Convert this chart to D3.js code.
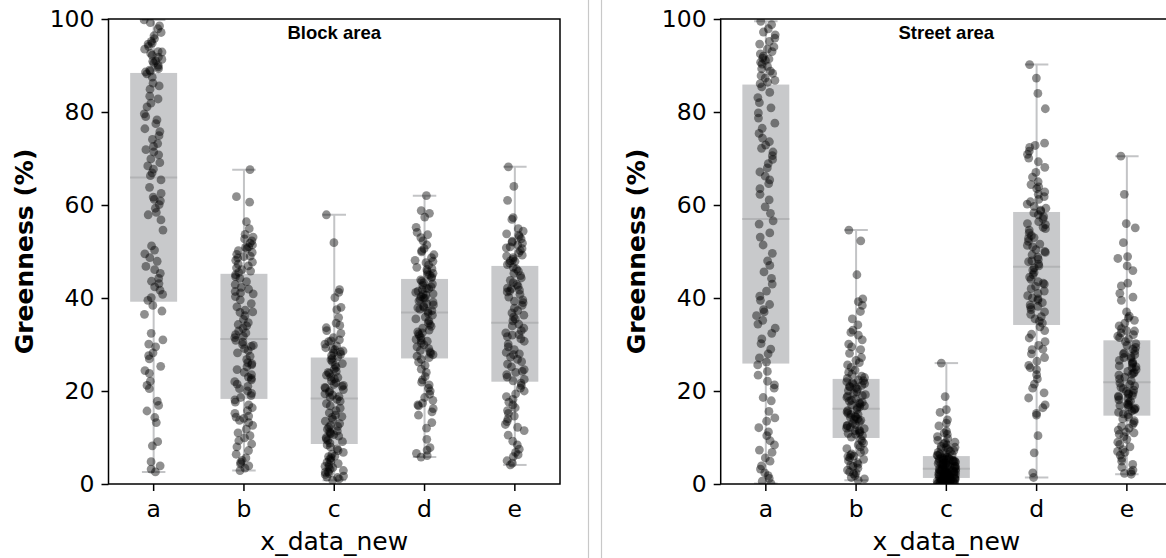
<!DOCTYPE html>
<html>
<head>
<meta charset="utf-8">
<script src="https://cdn.jsdelivr.net/npm/d3@7"></script>
<style>
  body { margin: 0; background: #fff; }
  svg { display: block; }
</style>
</head>
<body>
<svg id="chart" width="1166" height="558"></svg>
<script>
// Categories
const categories = ['a', 'b', 'c', 'd', 'e'];
const yTicks = [0, 20, 40, 60, 80, 100];

// Block area - box stats
const blockLo  = [2.6, 2.9, 0.8, 5.8, 4.1];
const blockQ1  = [39.2, 18.3, 8.6, 27.0, 22.0];
const blockMed = [65.9, 31.2, 18.4, 36.9, 34.7];
const blockQ3  = [88.4, 45.2, 27.2, 44.1, 46.9];
const blockHi  = [99.8, 67.6, 57.9, 62.0, 68.2];

// Street area - box stats
const streetLo  = [0.1, 0.8, 0.0, 1.4, 2.1];
const streetQ1  = [25.9, 9.9, 1.3, 34.2, 14.7];
const streetMed = [57.0, 16.2, 3.3, 46.7, 21.9];
const streetQ3  = [85.9, 22.6, 6.0, 58.5, 30.9];
const streetHi  = [99.5, 54.6, 26.0, 90.2, 70.5];

// Block area - points
const blockA = [99.8, 99.2, 98.5, 97.9, 97.1, 96.4, 95.8, 95.2, 94.6, 94.1, 93.5, 93.0, 92.6, 92.2, 91.8, 91.3, 90.9, 90.5, 90.1, 89.7, 89.3, 89.0, 88.8, 88.6, 92.9, 94.8, 91.0,
  88.2, 87.5, 86.2, 85.6, 84.9, 83.4, 82.8, 81.9, 81.1, 79.6, 79.0, 78.3, 77.5, 76.4, 75.8, 74.9, 74.1, 73.2, 72.6, 71.4, 70.8, 69.9, 69.1, 68.4, 67.7, 66.9, 66.3, 71.9,
  65.4, 63.8, 62.5, 61.7, 61.2, 60.9, 60.1, 59.3, 58.4, 57.9, 56.8, 54.6, 51.2, 50.3, 49.5, 48.7, 47.9, 46.8, 46.1, 45.3, 44.2, 43.6, 43.1, 42.4, 41.7, 40.8, 40.1, 39.5,
  38.4, 37.2, 36.5, 32.4, 31.0, 30.1, 29.5, 28.2, 27.6, 26.9, 25.3, 24.4, 23.8, 22.1, 21.2, 20.5, 17.8, 16.9, 15.7, 14.3, 13.2, 9.1, 8.2, 4.8, 3.9, 3.2, 2.6];
const blockB = [67.6, 61.8, 60.6, 56.4, 54.9, 53.7, 53.1, 52.3, 51.8, 51.4, 51.0, 50.6, 50.2, 49.8, 49.4, 49.0, 48.6, 48.1, 47.7, 47.3, 46.9, 46.5, 46.1, 45.8, 45.5, 52.7, 50.9, 48.9,
  45.0, 44.6, 44.2, 43.5, 42.9, 42.3, 41.9, 41.4, 40.9, 40.3, 39.6, 38.8, 38.1, 37.4, 36.9, 36.2, 35.4, 34.7, 34.0, 33.5, 32.9, 32.5, 32.1, 31.8, 31.5, 41.1, 37.0, 34.3,
  30.9, 30.5, 30.0, 29.6, 29.1, 28.7, 28.2, 27.5, 26.8, 26.1, 25.6, 25.2, 24.6, 24.0, 23.5, 23.0, 22.4, 22.0, 21.5, 21.0, 20.5, 20.0, 19.5, 19.0, 18.6, 25.9, 22.7, 29.8,
  18.1, 17.6, 17.0, 16.4, 15.8, 15.2, 14.6, 14.1, 13.7, 13.2, 12.6, 11.8, 11.0, 10.4, 9.9, 9.3, 8.6, 8.0, 7.2, 6.4, 5.6, 5.1, 4.7, 4.3, 3.9, 3.4, 2.9, 14.4];
const blockC = [57.9, 51.9, 41.8, 41.2, 40.1, 38.0, 37.5, 35.8, 34.6, 34.1, 33.6, 32.4, 31.5, 31.0, 30.6, 30.1, 29.7, 29.3, 28.9, 28.6, 28.2, 27.9, 27.6, 27.4, 29.0, 30.8, 33.0, 28.4,
  27.0, 26.7, 26.3, 25.9, 25.5, 25.1, 24.7, 24.2, 23.8, 23.4, 23.0, 22.6, 22.2, 21.8, 21.4, 21.0, 20.6, 20.3, 20.0, 19.7, 19.4, 19.1, 18.8, 18.6, 24.0, 22.9, 21.2, 20.8,
  18.2, 17.8, 17.3, 16.8, 16.3, 15.8, 15.3, 14.8, 14.3, 13.9, 13.5, 13.0, 12.6, 12.2, 11.8, 11.4, 11.0, 10.6, 10.3, 10.0, 9.7, 9.4, 9.1, 8.8, 14.5, 12.4, 11.2, 10.8,
  8.4, 8.0, 7.6, 7.2, 6.8, 6.4, 6.0, 5.6, 5.3, 5.0, 4.7, 4.4, 4.1, 3.8, 3.5, 3.2, 2.9, 2.6, 2.3, 2.0, 1.7, 1.4, 1.1, 0.8, 5.9, 3.6, 2.5, 1.5];
const blockD = [62.0, 58.8, 58.2, 57.4, 55.2, 54.1, 53.6, 53.0, 52.3, 51.4, 50.6, 49.9, 49.3, 48.7, 48.1, 47.6, 47.1, 46.6, 46.1, 45.7, 45.3, 44.9, 44.6, 44.3, 50.2, 47.9, 46.3, 45.0,
  43.9, 43.6, 43.3, 43.0, 42.7, 42.4, 42.1, 41.8, 41.5, 41.2, 40.9, 40.6, 40.3, 40.0, 39.7, 39.4, 39.1, 38.8, 38.5, 38.2, 37.9, 37.6, 37.3, 37.1, 42.0, 40.8, 39.9, 38.0,
  36.7, 36.3, 35.9, 35.5, 35.1, 34.7, 34.3, 33.9, 33.5, 33.1, 32.7, 32.3, 31.9, 31.5, 31.1, 30.7, 30.3, 29.9, 29.5, 29.1, 28.7, 28.4, 28.1, 27.8, 27.5, 27.2, 30.9, 32.5,
  26.8, 26.2, 25.5, 24.7, 24.0, 23.1, 22.4, 21.9, 21.3, 20.6, 20.0, 19.3, 18.6, 18.0, 17.4, 16.8, 16.2, 15.5, 14.8, 13.2, 12.0, 9.6, 7.8, 7.3, 6.6, 6.1, 5.8, 17.0];
const blockE = [68.2, 64.0, 61.0, 57.3, 56.9, 54.9, 54.4, 53.8, 53.2, 52.7, 52.2, 51.8, 51.4, 51.0, 50.6, 50.2, 49.7, 49.2, 48.7, 48.3, 47.9, 47.5, 47.2, 52.0, 50.8, 49.0, 48.0, 53.5,
  46.6, 46.2, 45.8, 45.3, 44.8, 44.3, 43.8, 43.3, 42.9, 42.5, 42.1, 41.7, 41.3, 40.8, 40.2, 39.6, 39.0, 38.4, 37.8, 37.3, 36.8, 36.3, 35.9, 35.5, 35.1, 42.0, 41.5, 39.3,
  34.4, 34.0, 33.5, 33.0, 32.5, 32.1, 31.7, 31.2, 30.7, 30.1, 29.5, 28.9, 28.3, 27.8, 27.3, 26.8, 26.3, 25.8, 25.2, 24.6, 24.0, 23.5, 23.0, 22.5, 22.2, 32.0, 28.0, 24.2,
  21.7, 21.2, 20.6, 20.0, 19.4, 18.8, 18.2, 17.6, 17.0, 16.4, 15.8, 15.2, 14.6, 14.0, 13.4, 12.8, 12.2, 11.5, 10.5, 9.2, 8.4, 7.5, 6.8, 6.3, 5.9, 5.0, 4.5, 4.1];

// Street area - points
const streetA = [99.5, 98.8, 97.9, 97.2, 96.6, 95.9, 95.2, 94.6, 94.0, 93.5, 93.0, 92.5, 92.0, 91.6, 91.1, 90.7, 90.3, 89.8, 89.3, 88.8, 88.3, 87.8, 87.3, 86.8, 86.4, 86.1, 91.4,
  85.4, 84.2, 83.1, 82.0, 80.9, 79.8, 78.7, 77.6, 76.5, 75.4, 74.4, 73.6, 72.9, 72.2, 71.4, 70.6, 69.8, 68.9, 68.0, 67.1, 66.2, 65.4, 64.6, 63.5, 62.3, 61.1, 59.6, 58.2,
  56.6, 55.9, 54.0, 53.1, 51.4, 49.6, 48.0, 47.0, 45.6, 44.2, 43.0, 41.5, 40.4, 39.5, 38.6, 37.5, 37.0, 36.2, 35.2, 34.4, 33.5, 32.4, 31.2, 30.2, 29.0, 28.0, 27.1, 26.2,
  25.6, 24.2, 23.4, 22.1, 21.3, 20.6, 18.6, 17.9, 15.6, 14.2, 13.5, 12.1, 11.2, 10.4, 9.3, 8.4, 7.3, 6.8, 5.6, 4.9, 3.9, 3.2, 2.4, 1.8, 1.2, 0.6, 0.1];
const streetB = [54.6, 52.3, 45.0, 39.8, 39.2, 38.4, 37.1, 35.5, 34.2, 33.1, 32.6, 32.0, 31.0, 30.1, 29.5, 28.9, 28.1, 27.2, 26.6, 26.1, 25.6, 25.1, 24.5, 24.0, 23.6, 23.2, 22.9, 22.7,
  22.4, 22.2, 22.0, 21.8, 21.6, 21.4, 21.2, 21.0, 20.7, 20.4, 20.1, 19.8, 19.5, 19.2, 18.9, 18.6, 18.3, 18.0, 17.8, 17.6, 17.4, 17.2, 17.0, 16.8, 16.6, 16.4, 19.0, 20.9,
  16.0, 15.8, 15.5, 15.2, 14.9, 14.6, 14.3, 14.0, 13.7, 13.4, 13.1, 12.8, 12.5, 12.2, 11.9, 11.6, 11.3, 11.0, 10.7, 10.4, 10.1, 15.0, 13.9, 12.6, 11.5, 12.0, 14.4, 10.9,
  9.6, 9.2, 8.8, 8.4, 8.0, 7.6, 7.2, 6.8, 6.5, 6.2, 5.9, 5.6, 5.3, 5.0, 4.6, 4.2, 3.8, 3.4, 3.0, 2.6, 2.2, 1.8, 1.4, 1.1, 0.8, 6.0, 4.0, 2.4];
const streetC = [26.0, 18.8, 16.0, 15.4, 13.8, 13.1, 12.5, 11.4, 11.0, 10.7, 10.2, 9.8, 9.4, 9.0, 8.7, 8.4, 8.1, 7.8, 7.6, 7.4, 7.2, 7.0, 6.8, 6.6, 6.4, 6.3, 6.2, 6.1, 8.9, 7.9,
  5.9, 5.8, 5.7, 5.6, 5.5, 5.4, 5.3, 5.2, 5.1, 5.0, 4.9, 4.8, 4.7, 4.6, 4.5, 4.4, 4.3, 4.2, 4.1, 4.0, 3.9, 3.8, 3.7, 3.6, 3.5, 3.4, 5.35, 4.85, 4.35, 3.85,
  3.25, 3.2, 3.1, 3.0, 2.95, 2.9, 2.8, 2.7, 2.65, 2.6, 2.5, 2.4, 2.35, 2.3, 2.2, 2.1, 2.05, 2.0, 1.9, 1.8, 1.75, 1.7, 1.6, 1.5, 1.45, 1.4, 1.35, 2.55, 2.25, 1.95,
  1.25, 1.2, 1.15, 1.1, 1.05, 1.0, 0.95, 0.9, 0.85, 0.8, 0.75, 0.7, 0.65, 0.6, 0.55, 0.5, 0.45, 0.4, 0.35, 0.3, 0.25, 0.2, 0.15, 0.1, 0.05, 0.0, 1.0, 0.6, 0.3, 0.1];
const streetD = [90.2, 87.3, 84.0, 80.7, 73.3, 72.8, 72.4, 71.6, 70.9, 70.1, 69.3, 68.1, 67.0, 66.0, 65.0, 64.4, 63.5, 62.8, 62.3, 61.8, 61.2, 60.7, 60.2, 59.7, 59.3, 58.9, 58.7, 63.9,
  58.3, 57.9, 57.5, 57.0, 56.4, 55.8, 55.2, 54.6, 54.0, 53.4, 52.8, 52.2, 51.6, 51.0, 50.4, 49.8, 49.3, 48.8, 48.3, 47.8, 47.3, 46.9, 56.0, 53.0, 50.0, 48.0, 54.9, 51.3,
  46.5, 46.0, 45.5, 45.0, 44.5, 44.0, 43.5, 43.0, 42.5, 42.0, 41.5, 41.0, 40.5, 40.0, 39.5, 39.0, 38.5, 38.0, 37.5, 37.0, 36.5, 36.0, 35.5, 35.0, 34.6, 43.2, 39.8, 38.2,
  33.8, 33.0, 32.2, 31.4, 30.6, 29.8, 28.9, 28.0, 27.2, 26.4, 25.5, 24.6, 23.5, 22.6, 21.5, 20.6, 19.6, 18.5, 17.0, 16.4, 15.2, 14.8, 10.4, 6.7, 2.4, 1.4, 25.0, 29.0];
const streetE = [70.5, 62.3, 56.0, 55.1, 51.9, 48.9, 48.5, 46.9, 45.9, 43.2, 42.6, 41.0, 40.2, 39.5, 37.0, 36.1, 35.2, 34.6, 34.0, 33.4, 32.9, 32.5, 32.1, 31.8, 31.5, 31.2, 33.0, 35.7,
  30.6, 30.2, 29.8, 29.4, 29.0, 28.6, 28.2, 27.8, 27.4, 27.0, 26.6, 26.2, 25.8, 25.4, 25.0, 24.6, 24.2, 23.8, 23.4, 23.0, 22.6, 22.2, 28.0, 26.0, 24.0, 25.2, 27.2, 23.6,
  21.7, 21.4, 21.1, 20.8, 20.5, 20.2, 19.9, 19.6, 19.3, 19.0, 18.7, 18.4, 18.1, 17.8, 17.5, 17.2, 16.9, 16.6, 16.3, 16.0, 15.7, 15.4, 15.1, 14.9, 19.5, 18.9, 17.0, 16.1,
  14.4, 14.0, 13.6, 13.2, 12.8, 12.4, 12.0, 11.6, 11.2, 10.7, 10.2, 9.6, 9.0, 8.5, 8.0, 7.4, 6.8, 6.2, 5.5, 4.9, 4.2, 3.6, 3.0, 2.6, 2.3, 2.1, 11.0, 7.0];

const svg = d3.select('#chart');

// Colours
const boxColor = '#c8c9cb';
const whiskerColor = '#c3c4c6';
const medianColor = '#b2b3b5';

// Separator lines between the two figures
svg.append('line').attr('x1', 588.5).attr('x2', 588.5).attr('y1', 0).attr('y2', 558)
    .attr('stroke', '#c8c8c8').attr('stroke-width', 1.2);
svg.append('line').attr('x1', 601.5).attr('x2', 601.5).attr('y1', 0).attr('y2', 558)
    .attr('stroke', '#c8c8c8').attr('stroke-width', 1.2);

// deterministic horizontal spread for the strip points
function jitter(i, k) {
    const s = Math.sin(i * 127.1 + k * 311.7) * 43758.5453;
    return (s - Math.floor(s)) * 2 - 1;
}

function drawPanel(cfg) {
    const top = 19, bottom = 484;
    const x = d3.scaleBand().domain(categories).range([cfg.left, cfg.right]).padding(0);
    const y = d3.scaleLinear().domain([0, 100]).range([bottom, top]);
    const bw = x.bandwidth();
    const cx = c => x(c) + bw / 2;

    const g = svg.append('g');

    g.append('clipPath').attr('id', cfg.id + '-clip')
        .append('rect')
        .attr('x', cfg.left).attr('y', top)
        .attr('width', cfg.right - cfg.left).attr('height', bottom - top);

    const plot = g.append('g').attr('clip-path', `url(#${cfg.id}-clip)`);

    // boxes
    const boxW = bw * 0.52;
    categories.forEach((c, i) => {
        plot.append('line')
            .attr('x1', cx(c)).attr('x2', cx(c))
            .attr('y1', y(cfg.lo[i])).attr('y2', y(cfg.hi[i]))
            .attr('stroke', whiskerColor).attr('stroke-width', 2);
        [cfg.lo[i], cfg.hi[i]].forEach(v => {
            plot.append('line')
                .attr('x1', cx(c) - boxW / 4).attr('x2', cx(c) + boxW / 4)
                .attr('y1', y(v)).attr('y2', y(v))
                .attr('stroke', whiskerColor).attr('stroke-width', 2);
        });
        plot.append('rect')
            .attr('x', cx(c) - boxW / 2).attr('width', boxW)
            .attr('y', y(cfg.q3[i])).attr('height', y(cfg.q1[i]) - y(cfg.q3[i]))
            .attr('fill', boxColor);
        plot.append('line')
            .attr('x1', cx(c) - boxW / 2).attr('x2', cx(c) + boxW / 2)
            .attr('y1', y(cfg.med[i])).attr('y2', y(cfg.med[i]))
            .attr('stroke', medianColor).attr('stroke-width', 2);
    });

    // strip points
    categories.forEach((c, k) => {
        plot.append('g').selectAll('circle')
            .data(cfg.points[k])
            .enter()
            .append('circle')
            .attr('cx', (d, i) => cx(c) + jitter(i, k + cfg.seed) * bw * 0.105)
            .attr('cy', d => y(d))
            .attr('r', 4.4)
            .attr('fill', '#000')
            .attr('fill-opacity', 0.44);
    });

    // frame
    g.append('rect')
        .attr('x', cfg.left).attr('y', top)
        .attr('width', cfg.right - cfg.left).attr('height', bottom - top)
        .attr('fill', 'none').attr('stroke', '#000').attr('stroke-width', 1.5);

    // axes
    const yAxis = g.append('g').attr('transform', `translate(${cfg.left},0)`)
        .call(d3.axisLeft(y).tickValues(yTicks).tickSize(7).tickPadding(7));
    const xAxis = g.append('g').attr('transform', `translate(0,${bottom})`)
        .call(d3.axisBottom(x).tickSize(7).tickPadding(9));
    [yAxis, xAxis].forEach(a => {
        a.select('.domain').remove();
        a.selectAll('line').attr('stroke', '#000').attr('stroke-width', 1.5);
        a.selectAll('text')
            .style('font-family', 'DejaVu Sans')
            .style('font-size', '23.5px')
            .attr('fill', '#000');
    });

    // title inside the axes
    g.append('text')
        .attr('x', (cfg.left + cfg.right) / 2)
        .attr('y', 39)
        .attr('text-anchor', 'middle')
        .style('font-family', 'Liberation Sans')
        .style('font-weight', 'bold')
        .style('font-size', '18.5px')
        .text(cfg.title);

    // axis labels
    g.append('text')
        .attr('x', (cfg.left + cfg.right) / 2)
        .attr('y', 550)
        .attr('text-anchor', 'middle')
        .style('font-family', 'DejaVu Sans')
        .style('font-size', '25px')
        .text('x_data_new');

    g.append('text')
        .attr('transform', `translate(${cfg.left - 76},${(top + bottom) / 2}) rotate(-90)`)
        .attr('text-anchor', 'middle')
        .style('font-family', 'DejaVu Sans')
        .style('font-weight', 'bold')
        .style('font-size', '25px')
        .text('Greenness (%)');
}

drawPanel({
    id: 'block', title: 'Block area', left: 108.5, right: 560, seed: 0,
    lo: blockLo, q1: blockQ1, med: blockMed, q3: blockQ3, hi: blockHi,
    points: [blockA, blockB, blockC, blockD, blockE]
});

drawPanel({
    id: 'street', title: 'Street area', left: 720.7, right: 1172, seed: 7,
    lo: streetLo, q1: streetQ1, med: streetMed, q3: streetQ3, hi: streetHi,
    points: [streetA, streetB, streetC, streetD, streetE]
});
</script>
</body>
</html>
